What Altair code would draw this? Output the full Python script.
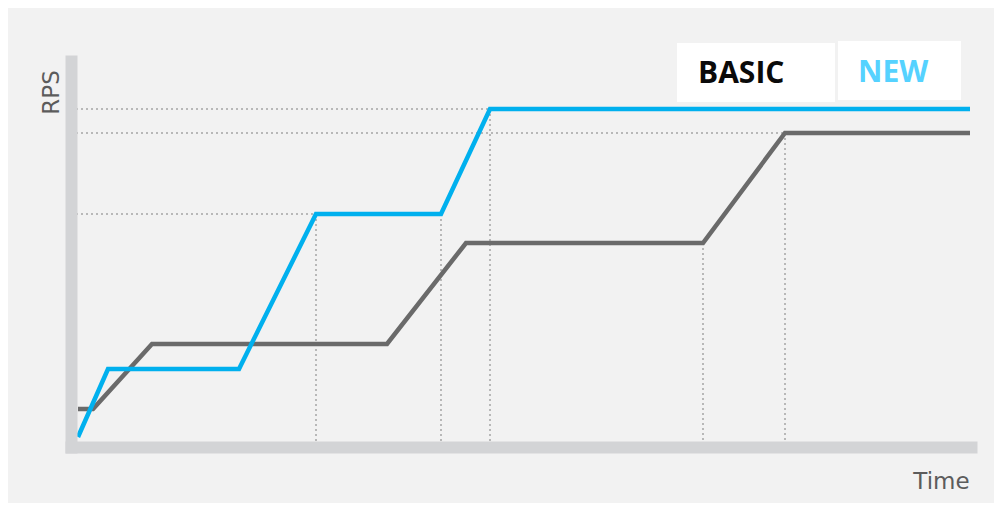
import altair as alt
import pandas as pd

# ---- data (arbitrary units: time → right, RPS → up) ----
series_names = ["BASIC", "NEW"]
series_colors = ["#6a6a6a", "#00b0ee"]

time_basic = [7, 22, 81, 316, 395, 632, 714, 899]
rps_basic = [38, 38, 103, 103, 204, 204, 314, 314]

time_new = [7, 37, 168, 245, 370, 419, 899]
rps_new = [10, 78, 78, 233, 233, 338, 338]

# dotted drop-lines from corners down to the time axis
vguide_time = [245, 370, 419, 632, 714]
vguide_rps = [233, 233, 338, 204, 314]
# dotted lines from the RPS axis across to corners
hguide_rps = [338, 314, 233]
hguide_time = [419, 714, 245]

X_MAX = 900
Y_MAX = 386

rows = []
for i, (t, r) in enumerate(zip(time_basic, rps_basic)):
    rows.append({"series": "BASIC", "time": t, "rps": r, "idx": i})
for i, (t, r) in enumerate(zip(time_new, rps_new)):
    rows.append({"series": "NEW", "time": t, "rps": r, "idx": i})
lines_df = pd.DataFrame(rows)

vg_df = pd.DataFrame({"time": vguide_time, "rps": vguide_rps, "base": [0] * len(vguide_time)})
hg_df = pd.DataFrame({"time": hguide_time, "rps": hguide_rps, "start": [0] * len(hguide_time)})

x_axis = alt.Axis(
    domainWidth=12, domainColor="#d3d4d6", domainCap="square",
    ticks=False, labels=False, grid=False, zindex=1,
    title="Time", titleX=870, titleY=41, titleAlign="center",
    titleBaseline="alphabetic", titleFont="DejaVu Sans", titleFontSize=23,
    titleFontWeight="normal", titleColor="#5c5c5c",
)
y_axis = alt.Axis(
    domainWidth=12, domainColor="#d3d4d6", domainCap="square",
    ticks=False, labels=False, grid=False, zindex=1,
    title="RPS", titleX=-13, titleY=31, titleAngle=270, titleAlign="center",
    titleBaseline="alphabetic", titleFont="DejaVu Sans", titleFontSize=23,
    titleFontWeight="normal", titleColor="#5c5c5c",
)
xs = alt.Scale(domain=[0, X_MAX], nice=False, zero=False)
ys = alt.Scale(domain=[0, Y_MAX], nice=False, zero=False)

dot = dict(color="#b8b8b8", strokeWidth=2, strokeDash=[2, 3])

vguides = alt.Chart(vg_df).mark_rule(**dot).encode(
    x=alt.X("time:Q", scale=xs, axis=x_axis),
    y=alt.Y("rps:Q", scale=ys, axis=y_axis),
    y2="base:Q",
)
hguides = alt.Chart(hg_df).mark_rule(**dot).encode(
    x=alt.X("start:Q", scale=xs, axis=x_axis),
    x2="time:Q",
    y=alt.Y("rps:Q", scale=ys, axis=y_axis),
)

lines = alt.Chart(lines_df).mark_line(strokeWidth=4.5, strokeJoin="miter").encode(
    x=alt.X("time:Q", scale=xs, axis=x_axis),
    y=alt.Y("rps:Q", scale=ys, axis=y_axis),
    color=alt.Color("series:N", scale=alt.Scale(domain=series_names, range=series_colors), legend=None),
    order="idx:Q",
)

one = alt.Data(values=[{"k": 1}])
legend_layers = []
legend_boxes = [(606, 764, -18, 41), (767, 890, -20, 39)]
legend_text_pos = [(627, 22), (787, 21)]
legend_text_colors = ["#0a0a0a", "#55d2ff"]
for name, (x1, x2, y1, y2), (tx, ty), tc in zip(series_names, legend_boxes, legend_text_pos, legend_text_colors):
    legend_layers.append(
        alt.Chart(one).mark_rect(fill="white").encode(
            x=alt.value(x1), x2=alt.value(x2), y=alt.value(y1), y2=alt.value(y2)
        )
    )
    legend_layers.append(
        alt.Chart(one).mark_text(
            text=name, font="Open Sans", fontSize=30, fontWeight="bold",
            color=tc, align="left", baseline="alphabetic",
        ).encode(x=alt.value(tx), y=alt.value(ty))
    )

chart = alt.layer(vguides, hguides, lines, *legend_layers).properties(
    width=X_MAX, height=Y_MAX,
    autosize=alt.AutoSizeParams(type="none"),
    padding={"left": 63, "top": 53, "right": 23, "bottom": 56},
    background="#f2f2f2",
).configure_view(stroke=None)

chart.save("out.html", embed_options={"renderer": "svg", "actions": False})
